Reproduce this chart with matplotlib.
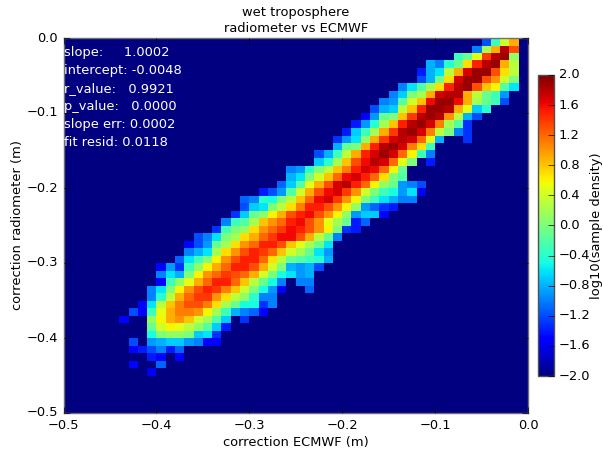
import numpy as np
import matplotlib
matplotlib.use('Agg')
import matplotlib.pyplot as plt

plt.style.use('classic')
plt.rcParams['font.family'] = 'DejaVu Sans'
plt.rcParams['font.size'] = 9.35

# first filled column of each row, row 0 is the top of the picture
row_starts = [45, 44, 42, 39, 38, 38, 36, 35, 34, 33,
              32, 31, 30, 29, 29, 27, 27, 24, 24, 23,
              21, 19, 19, 18, 17, 16, 14, 13, 13, 12,
              10, 10, 10, 9, 9, 8, 7, 6, 9, 9,
              7, 7, 9, 7, 9]

# log10(sample density), -2 is empty background
row_values = [
    [-1.2, -0.3, 0.4, 0.9],
    [-1.0, 0.2, 0.9, 1.8, 1.3],
    [-0.3, -0.1, 0.5, 1.4, 1.8, 1.9, 0.1],
    [-0.8, -1.0, -0.4, -0.1, 0.7, 1.5, 1.8, 1.9, 0.9, 0.3],
    [-1.4, -0.8, -0.6, 0.3, 0.9, 1.7, 1.9, 1.9, 1.3, 0.7, 0.3],
    [-1.2, -0.8, -0.1, 0.7, 1.7, 1.9, 1.9, 1.3, 1.0, 0.4, 0.0],
    [-1.0, -0.6, -0.2, 0.2, 0.7, 1.5, 1.8, 1.9, 1.3, 0.8, 0.6, -0.2, -0.6],
    [-1.0, -0.7, 0.0, 0.2, 0.9, 1.7, 1.8, 1.8, 0.9, 0.3, -0.1, -0.3, -0.9],
    [-1.0, -0.9, -0.2, 0.4, 0.8, 1.6, 1.9, 1.9, 1.6, 0.9, 0.2, -0.1, -0.3, -1.2],
    [-1.2, -0.8, -0.7, 0.3, 0.8, 1.5, 1.9, 1.9, 1.8, 0.9, 0.5, -0.7, -0.4],
    [-1.5, -0.9, -0.1, 0.0, 0.8, 1.4, 1.8, 1.9, 1.8, 1.0, 0.3, -0.8, -1.2],
    [-1.4, -0.9, -0.4, 0.2, 0.8, 1.5, 1.8, 1.9, 1.7, 1.1, 0.2, -0.2, -1.3],
    [-1.4, -0.7, -0.3, 0.2, 0.9, 1.4, 1.8, 1.9, 1.7, 1.1, 0.3, 0.0, -1.0, -1.3],
    [-1.3, -0.9, -0.6, 0.1, 0.9, 1.4, 1.7, 1.8, 1.7, 1.2, 0.5, -0.8, -2, -2, -1.3],
    [-0.8, -0.1, 0.0, 0.9, 1.5, 1.8, 1.9, 1.7, 1.1, 0.7, -0.3],
    [-1.2, -0.8, -0.3, 0.3, 0.9, 1.5, 1.7, 1.9, 1.7, 1.2, 0.6, -0.3, -1.0],
    [-0.7, -0.4, 0.2, 0.8, 1.3, 1.6, 1.8, 1.7, 1.2, 0.5, 0.0, -2, -1.4],
    [-1.0, -0.9, -0.4, 0.0, 0.3, 0.8, 1.1, 1.5, 1.7, 1.6, 1.2, 0.6, -0.1],
    [-0.8, -0.6, 0.0, 0.4, 0.8, 1.2, 1.6, 1.7, 1.5, 1.2, 0.7, 0.0, -0.2],
    [-1.1, -0.7, -0.2, 0.5, 0.9, 1.3, 1.7, 1.8, 1.5, 1.2, 0.6, 0.1, -0.1, -0.9, -1.0, -1.2],
    [-1.4, -1.2, -0.9, -0.2, 0.4, 0.9, 1.3, 1.6, 1.7, 1.4, 1.0, 0.4, 0.0, -0.3, -0.5, -0.9, -0.6, -1.6],
    [-1.1, -1.0, -0.4, -0.5, 0.0, 0.3, 0.8, 1.2, 1.6, 1.7, 1.4, 1.0, 0.6, 0.0, -0.3, -0.6, -0.8, -1.0, -1.0],
    [-1.2, -0.7, -0.6, 0.0, 0.3, 0.7, 1.1, 1.5, 1.5, 1.3, 1.0, 0.6, 0.1, -0.9, -1.1, -1.3, -1.4],
    [-1.3, -0.7, -0.1, 0.1, 0.6, 0.9, 1.3, 1.5, 1.6, 1.3, 1.0, 0.6, 0.1, -0.9, -0.7, -0.7, -1.5],
    [-1.0, -0.3, -0.2, 0.2, 0.8, 1.0, 1.2, 1.5, 1.6, 1.3, 1.0, 0.5, 0.2, -0.1, -1.4, -1.1],
    [-1.3, -0.3, 0.0, 0.1, 0.7, 1.0, 1.2, 1.4, 1.6, 1.5, 1.3, 1.0, 0.6, 0.0, -1.3, -1.4],
    [-1.2, -1.0, -0.6, 0.0, 0.2, 0.7, 0.9, 1.2, 1.4, 1.6, 1.6, 1.3, 0.9, 0.3, -0.1, -1.0],
    [-1.5, -1.2, -0.9, -0.1, 0.2, 0.7, 1.0, 1.2, 1.5, 1.5, 1.3, 0.8, 0.5, 0.2, -0.1, -0.6],
    [-1.0, -0.8, -0.6, 0.2, 0.7, 1.0, 1.3, 1.5, 1.4, 1.2, 0.8, 0.4, 0.2, -0.1, -0.6, -0.9],
    [-1.1, -0.6, -0.3, 0.0, 0.6, 1.0, 1.3, 1.5, 1.5, 1.2, 0.7, 0.3, -0.1, -0.2, -0.3, -0.4, -0.8],
    [-1.5, -0.9, -1.3, -0.3, 0.1, 0.6, 0.9, 1.2, 1.5, 1.5, 1.3, 0.9, 0.4, 0.0, -0.8, -0.9, -0.8, -1.2],
    [-1.0, -0.6, -0.8, 0.0, 0.6, 1.0, 1.2, 1.4, 1.3, 1.2, 0.9, 0.4, 0.0, -0.5, -0.6, -0.9, -0.8],
    [-1.5, -0.3, 0.1, 0.5, 0.9, 1.2, 1.5, 1.5, 1.2, 0.8, 0.3, -0.1, -0.5, -1.0, -2, -1.0, -1.0],
    [-1.0, -0.6, 0.0, 0.6, 1.0, 1.3, 1.5, 1.4, 1.1, 0.8, 0.4, 0.0, -0.5, -0.9, -1.5, -2, -2, -1.1],
    [-1.0, -0.4, 0.3, 0.9, 1.2, 1.4, 1.4, 1.0, 0.7, 0.3, 0.1, -0.4, -1.0, -1.0],
    [-1.5, -0.6, 0.3, 0.8, 1.1, 1.3, 1.3, 1.1, 0.7, 0.2, -0.1, -0.5, -0.5, -1.3, -1.0],
    [-1.2, -1.5, -0.3, 0.5, 0.9, 1.1, 1.1, 1.0, 0.6, 0.2, -0.3, -0.8, -1.0, -1.1, -1.5],
    [-1.5, -2, -2, 0.1, 0.6, 0.9, 1.0, 0.8, 0.4, 0.2, -0.2, -0.7, -2, -1.3],
    [-0.1, 0.4, 0.6, 0.5, 0.3, 0.1, -0.2, -0.7, -1.4],
    [-0.5, 0.0, 0.1, 0.1, 0.0, -0.7, -0.6, -1.3],
    [-1.2, -2, -0.9, -0.8, -0.7, -0.7, -0.9, -1.0, -1.5, -1.5],
    [-1.5, -1.4, -1.2, -1.0, -1.4, -1.1],
    [-1.4, -1.5, -2, -1.5],
    [-1.5, -2, -2, -1.1],
    [-1.6],
]

stats_labels = ['slope:     1.0002', 'intercept: -0.0048', 'r_value:   0.9921',
                'p_value:   0.0000', 'slope err: 0.0002', 'fit resid: 0.0118']
axis_ticks = [-0.5, -0.4, -0.3, -0.2, -0.1, 0.0]
cbar_ticks = [-2.0, -1.6, -1.2, -0.8, -0.4, 0.0, 0.4, 0.8, 1.2, 1.6, 2.0]

nbins = 50
grid = np.full((nbins, nbins), -2.0)
for r, (start, vals) in enumerate(zip(row_starts, row_values)):
    grid[r, start:start + len(vals)] = vals

edges = np.linspace(-0.5, 0.0, nbins + 1)

fig = plt.figure(figsize=(6.03, 4.55), dpi=100, facecolor='white')
W, H = 603., 455.
ax = fig.add_axes([63.5/W, 1-413/H, 464.5/W, 375/H])
mesh = ax.pcolormesh(edges, edges[::-1], grid, cmap='jet', vmin=-2, vmax=2)
ax.set_xlim(-0.5, 0.0)
ax.set_ylim(-0.5, 0.0)
ax.set_xticks(axis_ticks)
ax.set_yticks(axis_ticks)
ax.set_xlabel('correction ECMWF (m)', labelpad=3.5)
ax.set_ylabel('correction radiometer (m)', labelpad=2)
ax.set_title('wet troposphere\nradiometer vs ECMWF', fontsize=9.35, y=0.998, linespacing=1.28)
for s in ax.spines.values():
    s.set_edgecolor('#707070')

ax.text(0.001, 0.979, '\n'.join(stats_labels), color='white', transform=ax.transAxes,
        va='top', ha='left', linespacing=1.51)

cax = fig.add_axes([537.5/W, 1-376/H, 16/W, 301/H])
cbar = fig.colorbar(mesh, cax=cax, ticks=cbar_ticks)
cbar.set_label('log10(sample density)', labelpad=-0.5)
cbar.outline.set_edgecolor('#505050')
cbar.ax.set_yticklabels(['%.1f' % t if t >= 0 else '\u2212%.1f' % abs(t) for t in cbar_ticks])

fig.savefig('out.png', dpi=100)
